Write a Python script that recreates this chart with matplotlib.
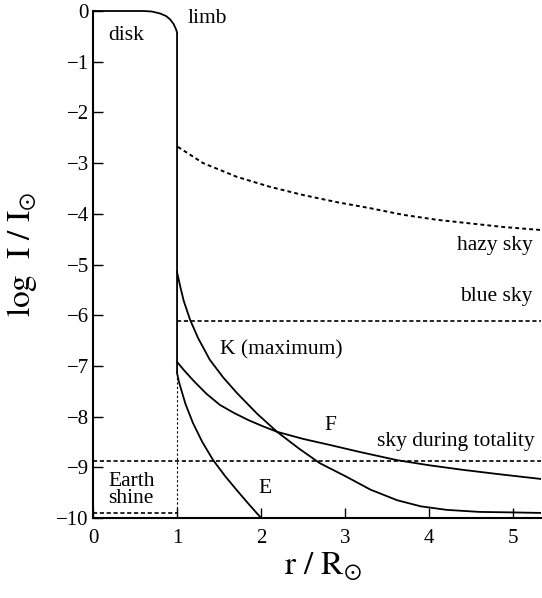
import numpy as np
import matplotlib
matplotlib.use("Agg")
import matplotlib.pyplot as plt

plt.rcParams['font.family'] = ['Liberation Serif', 'DejaVu Serif']
plt.rcParams['mathtext.fontset'] = 'stix'

# solar disk with limb darkening, then the drop at the limb
disk_r = [0.0, 0.6, 0.7, 0.8, 0.87, 0.92, 0.96, 0.99, 1.0, 1.0]
disk_logI = [0.0, 0.0, -0.01, -0.05, -0.10, -0.17, -0.26, -0.37, -0.43, -7.14]

# sky brightness
hazy_r = [1.01, 1.31, 1.71, 2.11, 2.50, 2.90, 3.30, 3.69, 4.10, 4.49, 4.88, 5.33]
hazy_logI = [-2.68, -3.00, -3.27, -3.47, -3.63, -3.77, -3.89, -4.02, -4.12, -4.19, -4.26, -4.32]
blue_sky = -6.11
totality_sky = -8.87
earth_shine = -9.90

# corona components
k_r = [1.0, 1.04, 1.08, 1.155, 1.25, 1.39, 1.55, 1.71, 1.95, 2.19, 2.45, 2.70, 3.02, 3.30, 3.62, 3.90, 4.21, 4.60, 5.0, 5.33]
k_logI = [-5.15, -5.45, -5.72, -6.09, -6.45, -6.88, -7.23, -7.53, -7.94, -8.30, -8.63, -8.92, -9.19, -9.44, -9.65, -9.77, -9.84, -9.88, -9.89, -9.90]
f_r = [1.0, 1.08, 1.2, 1.35, 1.51, 1.68, 1.85, 2.02, 2.19, 2.50, 2.82, 3.18, 3.62, 4.0, 4.4, 4.85, 5.33]
f_logI = [-6.92, -7.08, -7.30, -7.55, -7.77, -7.93, -8.07, -8.19, -8.30, -8.44, -8.56, -8.70, -8.86, -8.96, -9.05, -9.14, -9.23]
e_r = [1.0, 1.02, 1.05, 1.1, 1.19, 1.3, 1.43, 1.57, 1.71, 1.85, 2.0]
e_logI = [-7.14, -7.30, -7.47, -7.75, -8.13, -8.50, -8.86, -9.17, -9.45, -9.72, -10.0]

fig = plt.figure(figsize=(5.42, 5.98), dpi=100)
ax = fig.add_axes([93 / 542, 80 / 598, 448 / 542, 507 / 598])

lw = 1.3
ax.plot(disk_r, disk_logI, color='black', lw=lw, clip_on=False, solid_capstyle='butt')
ax.plot([1.0, 1.0], [-7.14, -10.0], color='black', lw=0.8, dashes=(2, 2))
ax.plot(hazy_r, hazy_logI, color='black', lw=1.4, dashes=(2, 1.6))
ax.plot([1.0, 5.33], [blue_sky, blue_sky], color='black', lw=1.2, dashes=(2.5, 1.6))
ax.plot([0.0, 5.33], [totality_sky, totality_sky], color='black', lw=1.2, dashes=(2.5, 1.6))
ax.plot([0.0, 1.0], [earth_shine, earth_shine], color='black', lw=1.2, dashes=(2.5, 1.6))
ax.plot(k_r, k_logI, color='black', lw=lw)
ax.plot(f_r, f_logI, color='black', lw=lw)
ax.plot(e_r, e_logI, color='black', lw=lw)

fs = 15.5
ax.text(0.39, -0.49, 'disk', fontsize=fs, ha='center', va='center')
ax.text(1.12, -0.14, 'limb', fontsize=fs, ha='left', va='center')
ax.text(5.23, -4.62, 'hazy sky', fontsize=fs, ha='right', va='center')
ax.text(5.23, -5.64, 'blue sky', fontsize=fs, ha='right', va='center')
ax.text(1.51, -6.69, 'K (maximum)', fontsize=fs, ha='left', va='center')
ax.text(2.82, -8.17, 'F', fontsize=fs, ha='center', va='center')
ax.text(5.25, -8.50, 'sky during totality', fontsize=fs, ha='right', va='center')
ax.text(2.05, -9.41, 'E', fontsize=fs, ha='center', va='center')
ax.text(0.18, -9.45, 'Earth\nshine', fontsize=fs, ha='left', va='center', linespacing=0.9)

ax.set_xlim(0, 5.33)
ax.set_ylim(-10, 0)
ax.set_xticks(range(6))
ax.set_yticks(range(-10, 1))
ax.spines['top'].set_visible(False)
ax.spines['right'].set_visible(False)
ax.spines['left'].set_linewidth(1.5)
ax.spines['bottom'].set_linewidth(1.5)
ax.tick_params(axis='both', direction='in', length=7, width=1, labelsize=15)
ax.tick_params(axis='y', pad=3)
ax.tick_params(axis='x', pad=8)

ax.set_xlabel(r'$\mathrm{r\ /\ R}_{\odot}$', fontsize=24)
ax.set_ylabel(r'$\mathrm{log\ \ I\ /\ I}_{\odot}$', fontsize=24)
ax.xaxis.set_label_coords(0.513, -0.065)
ax.yaxis.set_label_coords(-0.12, 0.52)

fig.savefig('out.png', dpi=100)
